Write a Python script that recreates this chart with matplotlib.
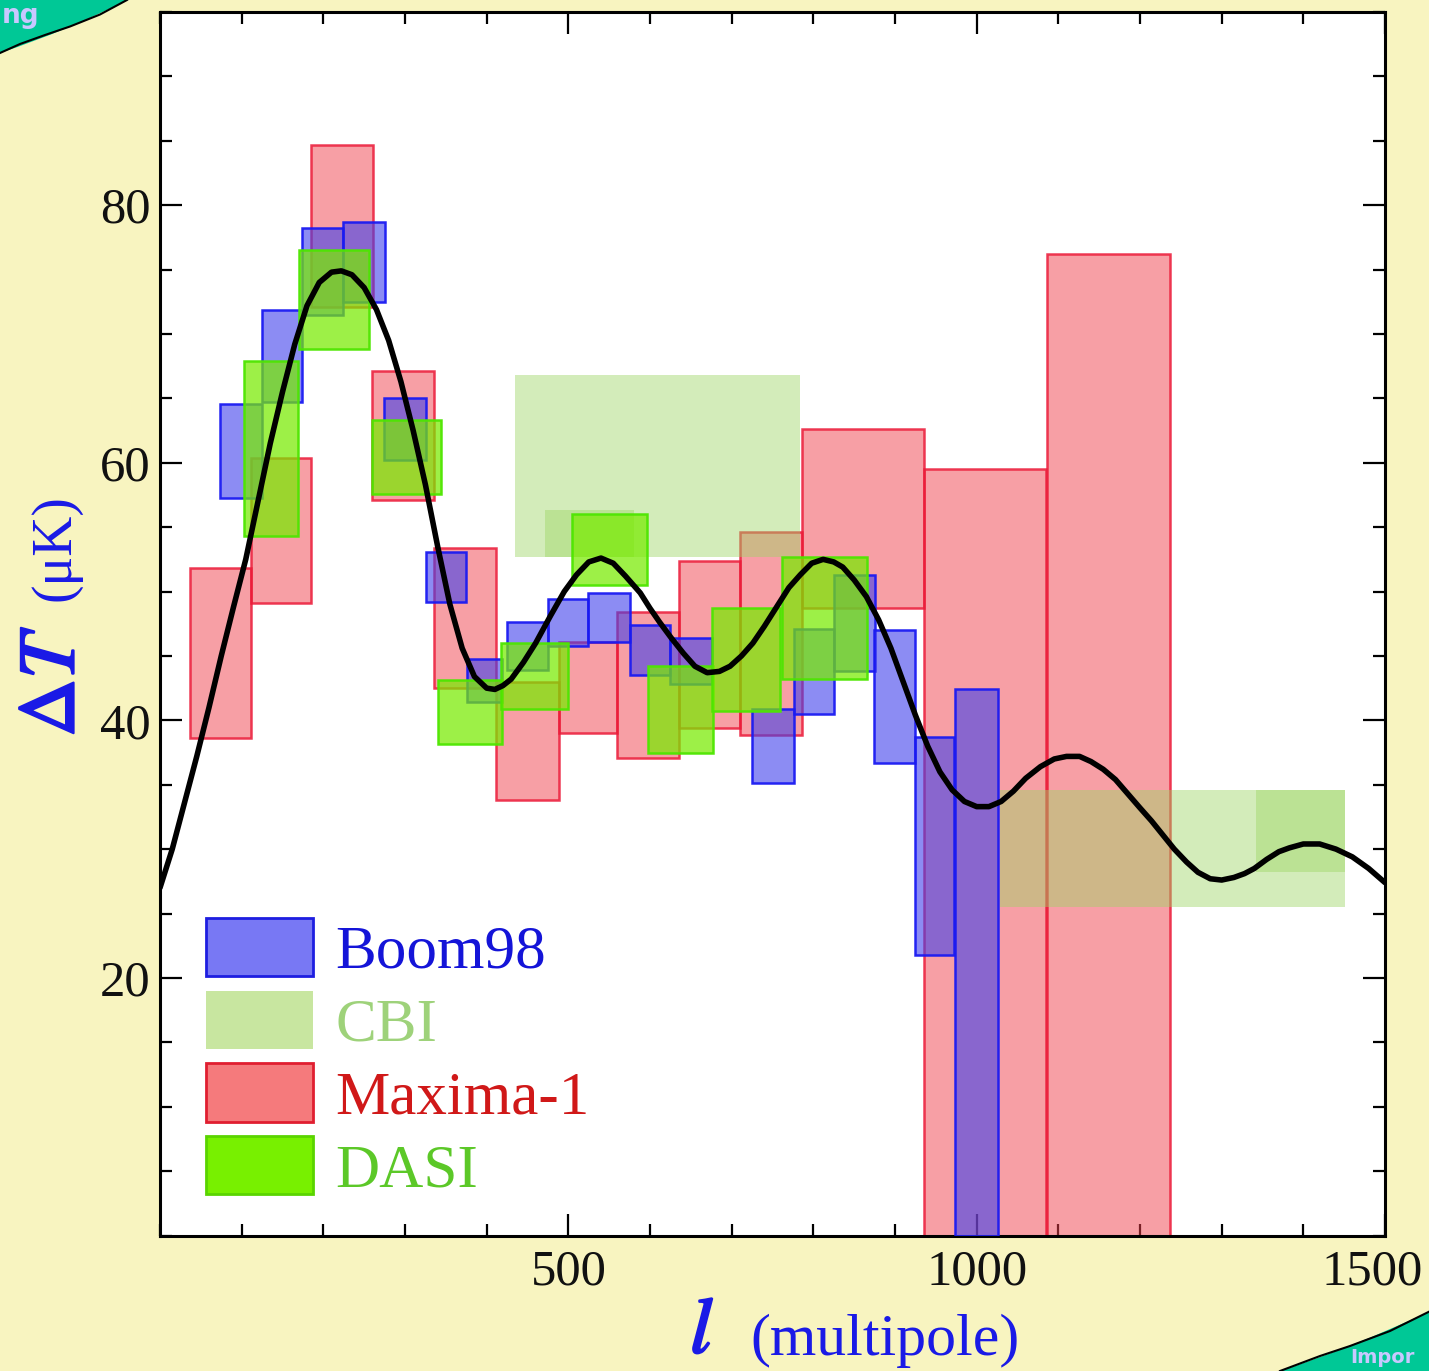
import matplotlib
matplotlib.use('Agg')
import matplotlib.pyplot as plt
from matplotlib.patches import Patch, PathPatch
from matplotlib.path import Path
from matplotlib.ticker import MultipleLocator, FixedLocator
from matplotlib.transforms import ScaledTranslation
import matplotlib.patheffects as pe

plt.rcParams['font.family'] = ['Liberation Serif', 'DejaVu Serif']
plt.rcParams['mathtext.fontset'] = 'stix'

# ---------------- data (multipole ranges and Delta T ranges, muK) ----------------
maxima_lmin = [37, 111, 185, 260, 335, 412, 488, 560, 636, 710, 786, 936, 1086]
maxima_lmax = [111, 185, 261, 335, 412, 488, 560, 636, 710, 786, 936, 1085, 1237]
maxima_lo = [38.6, 49.1, 72.1, 57.1, 42.5, 33.8, 39.0, 37.1, 39.4, 38.9, 48.7, 0.0, 0.0]
maxima_hi = [51.8, 60.4, 84.7, 67.1, 53.4, 43.0, 46.1, 48.4, 52.4, 54.6, 62.6, 59.5, 76.2]

cbi_lmin = [435, 471, 1029, 1342]
cbi_lmax = [784, 580, 1451, 1451]
cbi_lo = [52.7, 52.7, 25.5, 28.2]
cbi_hi = [66.8, 56.3, 34.6, 34.6]

boom_lmin = [74, 125.5, 174.4, 224.6, 273.8, 326.2, 376, 425.3, 475.5, 524.5, 575.9, 624.8, 724.9, 776.4, 824.8, 874.2, 924, 973.7]
boom_lmax = [125.5, 174.4, 224.6, 276, 326.2, 375.2, 419.2, 475.5, 524.5, 575.9, 624.8, 675.9, 775.8, 825.5, 875.8, 924, 972.5, 1026]
boom_lo = [57.3, 64.7, 71.5, 72.5, 60.2, 49.2, 41.4, 43.9, 45.8, 46.1, 43.5, 42.8, 35.1, 40.5, 43.8, 36.7, 21.8, 0.0]
boom_hi = [64.6, 71.9, 78.2, 78.7, 65.0, 53.1, 44.8, 47.6, 49.4, 49.9, 47.4, 46.4, 40.9, 47.1, 51.3, 47.0, 38.7, 42.4]

dasi_lmin = [103.4, 170.7, 260.1, 340.9, 417.6, 504.9, 597.9, 675.9, 761.6]
dasi_lmax = [168.5, 256.4, 344.6, 419.2, 500.0, 596.7, 677.5, 759.5, 866.0]
dasi_lo = [54.3, 68.8, 57.6, 38.2, 40.9, 50.5, 37.5, 40.7, 43.2]
dasi_hi = [67.9, 76.5, 63.3, 43.1, 46.0, 56.0, 44.2, 48.7, 52.7]

theory_l = [0, 15, 30, 45, 60, 75, 90, 105, 120, 135, 150, 165, 180, 195, 210, 222, 235, 250,
            265, 280, 295, 310, 325, 340, 355, 370, 385, 400, 410, 420, 430, 445, 460, 478,
            495, 510, 525, 540, 555, 570, 588, 600, 612, 626, 641, 655, 670, 685, 698, 712,
            726, 740, 755, 770, 784, 798, 812, 825, 836, 850, 865, 880, 895, 910, 925, 940,
            955, 970, 985, 1000, 1015, 1030, 1045, 1060, 1078, 1095, 1110, 1126, 1140, 1155,
            1170, 1185, 1200, 1214, 1228, 1242, 1257, 1271, 1286, 1300, 1315, 1328, 1340,
            1355, 1370, 1383, 1400, 1420, 1440, 1460, 1480, 1500]
theory_dt = [27.0, 30.0, 33.6, 37.2, 41.0, 45.0, 48.8, 52.5, 57.0, 61.5, 65.5, 69.2, 72.2, 74.0,
             74.8, 74.9, 74.6, 73.6, 71.9, 69.5, 66.3, 62.5, 58.3, 53.5, 49.0, 45.6, 43.4, 42.5,
             42.4, 42.7, 43.2, 44.5, 46.0, 48.1, 50.0, 51.3, 52.3, 52.6, 52.2, 51.2, 49.9, 48.7,
             47.6, 46.4, 45.2, 44.2, 43.7, 43.8, 44.2, 45.0, 46.0, 47.3, 48.8, 50.3, 51.3, 52.2,
             52.5, 52.3, 51.9, 50.9, 49.6, 47.8, 45.6, 43.0, 40.4, 38.0, 36.0, 34.6, 33.7, 33.3,
             33.3, 33.7, 34.5, 35.5, 36.4, 37.0, 37.2, 37.2, 36.8, 36.2, 35.4, 34.3, 33.2, 32.2,
             31.1, 30.0, 29.0, 28.2, 27.7, 27.6, 27.8, 28.1, 28.5, 29.2, 29.8, 30.1, 30.4, 30.4,
             30.0, 29.4, 28.5, 27.4]

legend_labels = ['Boom98', 'CBI', 'Maxima-1', 'DASI']
x_tick_values = [500, 1000, 1500]
y_tick_values = [20, 40, 60, 80]

# ---------------- styling ----------------
BG = '#f8f4c0'
TEAL = '#00c896'
C_BOOM_FACE = (0.25, 0.25, 0.92, 0.60)
C_BOOM_EDGE = (0.10, 0.10, 0.95, 0.95)
C_CBI_FACE = (0.62, 0.84, 0.40, 0.45)
C_MAX_FACE = (0.94, 0.25, 0.30, 0.50)
C_MAX_EDGE = (0.92, 0.10, 0.22, 0.85)
C_DASI_FACE = (0.47, 0.92, 0.00, 0.72)
C_DASI_EDGE = (0.30, 0.90, 0.00, 0.95)

W, H = 1429, 1371
fig = plt.figure(figsize=(W / 100, H / 100), dpi=100, facecolor=BG)

# decorative background (slide corners)
bg = fig.add_axes([0, 0, 1, 1], zorder=-5)
bg.set_xlim(0, W)
bg.set_ylim(H, 0)
bg.axis('off')
tl = Path([(0, 0), (0, 53), (70.5, 29.5), (127, 0), (0, 0)],
          [Path.MOVETO, Path.LINETO, Path.CURVE3, Path.CURVE3, Path.CLOSEPOLY])
bg.add_patch(PathPatch(tl, facecolor=TEAL, edgecolor='none'))
bg.plot([0, 20, 45, 70, 100, 127], [53, 44, 35, 26.5, 14.5, 0], color='black', lw=1.5)
br = Path([(1280, H), (1349.5, 1348.6), (W, 1311.7), (W, H), (1280, H)],
          [Path.MOVETO, Path.CURVE3, Path.CURVE3, Path.LINETO, Path.CLOSEPOLY])
bg.add_patch(PathPatch(br, facecolor=TEAL, edgecolor='none'))
bg.plot([1280, 1320, 1350, 1390, W], [H, 1356, 1346, 1331, 1311.7], color='black', lw=1.5)
bg.text(2, 23, 'ng', color='#c8c8ff', fontsize=19, fontweight='bold',
        family='DejaVu Sans', va='baseline', ha='left')
bg.text(1350, 1363, 'Impor', color='#c8c8ff', fontsize=14, fontweight='bold',
        family='DejaVu Sans', va='baseline', ha='left')

# main axes
ax = fig.add_axes([160 / W, 1 - 1235.5 / H, 1225 / W, 1223.5 / H])
ax.set_facecolor('white')


def boxes(lmin, lmax, lo, hi, **kw):
    widths = [b - a for a, b in zip(lmin, lmax)]
    heights = [b - a for a, b in zip(lo, hi)]
    ax.bar(lmin, heights, width=widths, bottom=lo, align='edge', **kw)


boxes(maxima_lmin, maxima_lmax, maxima_lo, maxima_hi,
      facecolor=C_MAX_FACE, edgecolor=C_MAX_EDGE, linewidth=1.8, zorder=2)
boxes(cbi_lmin, cbi_lmax, cbi_lo, cbi_hi,
      facecolor=C_CBI_FACE, edgecolor='none', linewidth=0, zorder=3)
boxes(boom_lmin, boom_lmax, boom_lo, boom_hi,
      facecolor=C_BOOM_FACE, edgecolor=C_BOOM_EDGE, linewidth=1.8, zorder=4)
boxes(dasi_lmin, dasi_lmax, dasi_lo, dasi_hi,
      facecolor=C_DASI_FACE, edgecolor=C_DASI_EDGE, linewidth=1.8, zorder=5)

ax.plot(theory_l, theory_dt, color='black', lw=4.0, zorder=6, solid_capstyle='round',
        solid_joinstyle='round')

ax.set_xlim(0, 1500)
ax.set_ylim(0, 95)
ax.xaxis.set_major_locator(FixedLocator(x_tick_values))
ax.yaxis.set_major_locator(FixedLocator(y_tick_values))
ax.xaxis.set_minor_locator(MultipleLocator(100))
ax.yaxis.set_minor_locator(MultipleLocator(5))
ax.tick_params(which='both', direction='in', top=True, right=True, width=1.6,
               color='black')
ax.tick_params(which='major', length=16, labelsize=36.5, labelcolor='#111111')
ax.tick_params(which='minor', length=8.5)
ax.tick_params(axis='x', which='major', pad=10)
ax.tick_params(axis='y', which='major', pad=7)
for s in ax.spines.values():
    s.set_linewidth(2.2)

# the last x tick label sits a little left of its tick, as in the original
last_tick = ax.xaxis.get_major_ticks()[len(x_tick_values) - 1]
last_tick.label1.set_transform(last_tick.label1.get_transform()
                               + ScaledTranslation(-0.13, 0, fig.dpi_scale_trans))

# legend
handles = [
    Patch(facecolor='#7878f4', edgecolor='#1e1ee0', linewidth=2),
    Patch(facecolor='#c8e6a0', edgecolor='none'),
    Patch(facecolor='#f57a7c', edgecolor='#e01e30', linewidth=2),
    Patch(facecolor='#78f000', edgecolor='#5ad400', linewidth=2),
]
label_colors = ['#1414d8', '#9ed27a', '#d01818', '#5cc828']
leg = ax.legend(handles, legend_labels, loc='upper left',
                bbox_to_anchor=(0.0376, 0.2595), frameon=False, fontsize=44,
                handlelength=1.75, handleheight=1.09, handletextpad=0.36,
                labelspacing=0.16, borderpad=0, borderaxespad=0)
for t, c in zip(leg.get_texts(), label_colors):
    t.set_color(c)

# axis labels (blue)
LBL = '#1a1ae6'
bold = [pe.withStroke(linewidth=1.6, foreground=LBL)]
fig.text(74 / W, 1 - 737 / H, r'$\Delta T$', color=LBL, fontsize=58, rotation=90,
         rotation_mode='anchor', ha='left', va='baseline', path_effects=bold)
fig.text(69 / W, 1 - 601 / H, '(\u03bcK)', color=LBL, fontsize=40, rotation=90,
         rotation_mode='anchor', ha='left', va='baseline')
fig.text(690 / W, 1 - 1353 / H, r'$l$', color=LBL, fontsize=57, ha='left', va='baseline',
         path_effects=bold)
fig.text(750 / W, 1 - 1355 / H, '(multipole)', color=LBL, fontsize=43, ha='left',
         va='baseline')

fig.savefig('out.png', dpi=100, facecolor=BG)
